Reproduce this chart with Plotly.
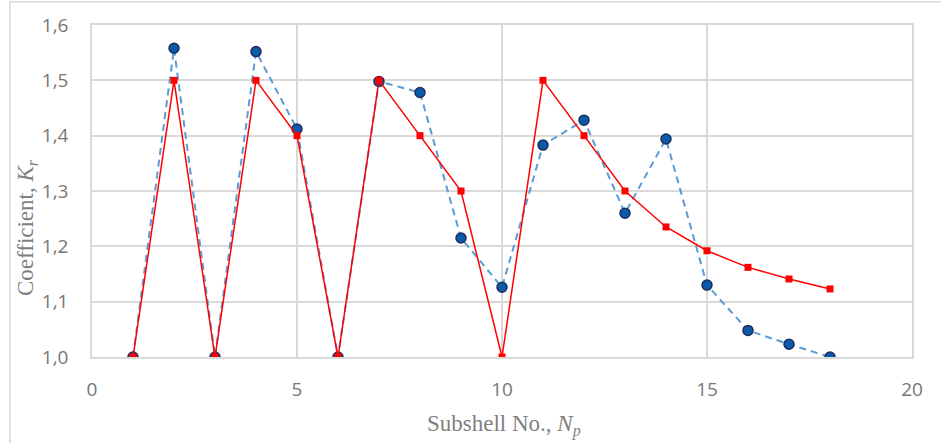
import plotly.graph_objects as go

subshell = list(range(1, 19))
kr_measured = [1.0, 1.558, 1.0, 1.552, 1.412, 1.0, 1.498, 1.478, 1.215, 1.126,
               1.383, 1.428, 1.26, 1.394, 1.13, 1.048, 1.023, 1.0]
kr_model = [1.0, 1.5, 1.0, 1.5, 1.4, 1.0, 1.5, 1.4, 1.3, 1.0,
            1.5, 1.4, 1.3, 1.235, 1.192, 1.162, 1.141, 1.123]

x_ticks = [0, 5, 10, 15, 20]
y_ticks = [1.0, 1.1, 1.2, 1.3, 1.4, 1.5, 1.6]

fig = go.Figure()
fig.add_trace(go.Scatter(
    x=subshell, y=kr_measured, mode="lines+markers",
    line=dict(color="#5b9bd5", width=2, dash="7px,5px"),
    marker=dict(symbol="circle", size=10, color="#0b5aa8",
                line=dict(color="#1b2f5e", width=1.5)),
    showlegend=False))
fig.add_trace(go.Scatter(
    x=subshell, y=kr_model, mode="lines+markers",
    line=dict(color="#ff0000", width=1.5),
    marker=dict(symbol="square", size=7, color="#ff0000"),
    showlegend=False))

grid = "#d9d9d9"
tickfont = dict(family="Open Sans, Liberation Sans, sans-serif", size=19, color="#767676")
fig.update_xaxes(range=[0, 20], tickvals=x_ticks, showgrid=True, gridcolor=grid, gridwidth=1.5,
                 showline=True, linecolor=grid, linewidth=1.5, mirror=True, zeroline=False,
                 ticks="outside", ticklen=14, tickcolor="rgba(0,0,0,0)", tickfont=tickfont,
                 automargin=False)
fig.update_yaxes(range=[1.0, 1.6], tickvals=y_ticks, tickformat=".1f", showgrid=True,
                 gridcolor=grid, gridwidth=1.5, showline=True, linecolor=grid, linewidth=1.5,
                 mirror=True, zeroline=False, ticks="outside", ticklen=18,
                 tickcolor="rgba(0,0,0,0)", tickfont=tickfont, automargin=False)

titlefont = dict(family="Liberation Serif, Times New Roman, serif", size=23, color="#7f7f7f")
fig.add_annotation(text="Subshell No., <i>N<sub>p</sub></i>", xref="paper", yref="paper",
                   x=0.502, y=-0.205, showarrow=False, font=titlefont,
                   xanchor="center", yanchor="middle")
fig.add_annotation(text="Coefficient, <i>K<sub>r</sub></i>", xref="paper", yref="paper",
                   x=-0.079, y=0.389, showarrow=False, font=titlefont, textangle=-90,
                   xanchor="center", yanchor="middle")
fig.add_shape(type="rect", xref="paper", yref="paper", x0=-0.1, x1=1.1, y0=-0.5, y1=1.07,
              line=dict(color=grid, width=1.5), layer="below")

fig.update_layout(width=941, height=443, margin=dict(l=92, r=29, t=25, b=86),
                  plot_bgcolor="white", paper_bgcolor="white", separators=", ")
fig.write_html("out.html", config={"displayModeBar": False},
               post_script="document.body.style.margin='0';document.body.style.overflow='hidden';")
